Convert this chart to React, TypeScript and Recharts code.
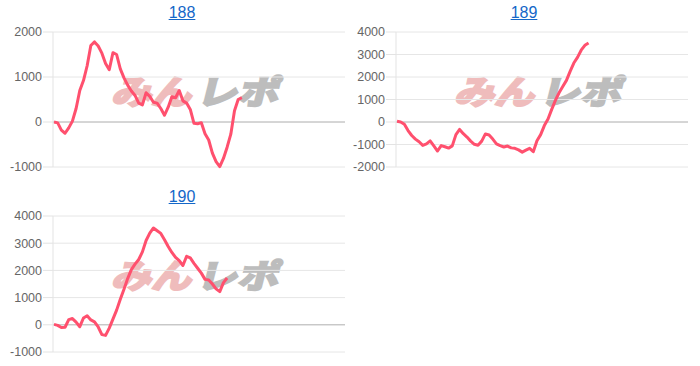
import { LineChart, Line, XAxis, YAxis, CartesianGrid, ReferenceLine } from 'recharts';

// x positions shared by every chart (the line stops partway along)
const xSlots: number[] = Array.from({ length: 80 }, (_, i) => i);

const values188 = [
  0, -20, -180, -250, -130, 20, 300, 700, 920, 1250,
  1700, 1780, 1690, 1530, 1300, 1160, 1540, 1500, 1180, 980,
  820, 690, 590, 420, 380, 650, 570, 440, 420, 300,
  150, 330, 560, 540, 700, 470, 420, 280, -30, -40,
  -15, -260, -400, -690, -880, -990, -810, -560, -270, 250,
  500, 540,
];

const values189 = [
  30, 0, -100, -380, -600, -760, -880, -1040, -970, -840,
  -1060, -1290, -1050, -1100, -1160, -1060, -560, -330, -520, -670,
  -850, -990, -1030, -850, -530, -580, -760, -970, -1050, -1110,
  -1070, -1150, -1170, -1240, -1340, -1250, -1170, -1320, -830, -560,
  -160, 130, 560, 960, 1300, 1580, 1850, 2250, 2620, 2870,
  3190, 3410, 3510,
];

const values190 = [
  15, -20, -100, -90, 190, 230, 100, -70, 250, 330,
  180, 110, -80, -360, -390, -120, 210, 540, 940, 1310,
  1700, 2030, 2230, 2400, 2680, 3100, 3370, 3560, 3460, 3360,
  3130, 2880, 2660, 2480, 2360, 2180, 2520, 2460, 2260, 2080,
  1900, 1670, 1650, 1500, 1320, 1220, 1550, 1720,
];

const ticks188 = [-1000, 0, 1000, 2000];
const ticks189 = [-2000, -1000, 0, 1000, 2000, 3000, 4000];
const ticks190 = [-1000, 0, 1000, 2000, 3000, 4000];

const toRows = (vals: number[]) =>
  xSlots.map((x) => ({ x, v: x < vals.length ? vals[x] : null }));

const font = '"Liberation Sans", Arial, Helvetica, sans-serif';

function Title({ text, cx, top }: { text: string; cx: number; top: number }) {
  return (
    <a
      href="#"
      style={{
        position: 'absolute',
        left: cx - 40,
        width: 80,
        top,
        textAlign: 'center',
        fontFamily: font,
        fontSize: 16,
        color: '#1467c8',
        textDecoration: 'underline',
        lineHeight: '18px',
      }}
    >
      {text}
    </a>
  );
}

function Watermark({ left, baseline }: { left: number; baseline: number }) {
  return (
    <svg
      width={200}
      height={50}
      style={{ position: 'absolute', left, top: baseline - 40, overflow: 'visible' }}
    >
      <g transform="translate(10,0) skewX(-14)" fontFamily='"Noto Sans CJK JP", sans-serif' fontWeight={700}>
        <text
          x={12}
          y={40}
          fontSize={33}
          fill="#efbcbc"
          stroke="#efbcbc"
          strokeWidth={2.5}
          textLength={80}
          lengthAdjust="spacingAndGlyphs"
        >
          みん
        </text>
        <text
          x={97}
          y={40}
          fontSize={33}
          fill="#bdbdbd"
          stroke="#bdbdbd"
          strokeWidth={2.5}
          textLength={82}
          lengthAdjust="spacingAndGlyphs"
        >
          レポ
        </text>
      </g>
    </svg>
  );
}

function MiniChart({
  vals,
  ticks,
  left,
  top,
  height,
  marginTop,
}: {
  vals: number[];
  ticks: number[];
  left: number;
  top: number;
  height: number;
  marginTop: number;
}) {
  return (
    <div style={{ position: 'absolute', left, top }}>
      <LineChart
        width={345}
        height={height}
        data={toRows(vals)}
        margin={{ top: marginTop, right: 0, bottom: 10, left: 0 }}
      >
        <CartesianGrid vertical={false} stroke="#e6e6e6" />
        <XAxis dataKey="x" hide scale="point" padding={{ left: 1, right: 0 }} />
        <YAxis
          width={53}
          domain={[ticks[0], ticks[ticks.length - 1]]}
          ticks={ticks}
          interval={0}
          stroke="#e3e3e3"
          tickSize={10}
          tickMargin={1}
          tick={{ fill: '#666', fontSize: 12.5, fontFamily: font }}
        />
        <ReferenceLine y={0} stroke="#b8b8b8" />
        <Line
          type="linear"
          dataKey="v"
          stroke="#ff506e"
          strokeWidth={3}
          dot={false}
          strokeLinejoin="round"
          isAnimationActive={false}
        />
      </LineChart>
    </div>
  );
}

export default function App() {
  return (
    <div style={{ position: 'absolute', left: 0, top: 0, width: 700, height: 366, background: '#fff' }}>
      <Watermark left={99} baseline={104} />
      <Watermark left={442} baseline={104} />
      <Watermark left={99} baseline={288} />

      <Title text="188" cx={182} top={4} />
      <Title text="189" cx={524} top={4} />
      <Title text="190" cx={182} top={188} />

      <MiniChart vals={values188} ticks={ticks188} left={0} top={0} height={177} marginTop={32} />
      <MiniChart vals={values189} ticks={ticks189} left={343} top={0} height={177} marginTop={32} />
      <MiniChart vals={values190} ticks={ticks190} left={0} top={180} height={182} marginTop={36} />
    </div>
  );
}
